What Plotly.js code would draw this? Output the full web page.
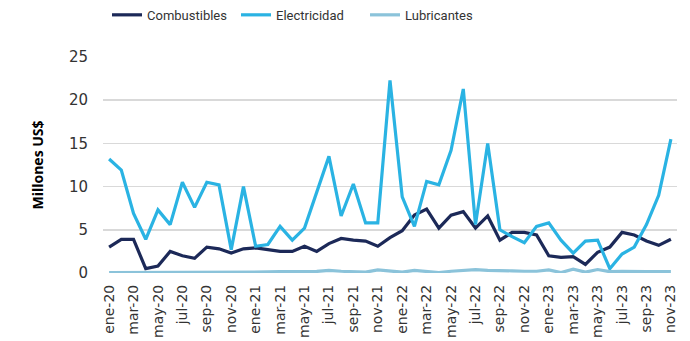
<!DOCTYPE html>
<html>
<head>
<meta charset="utf-8">
<script src="https://cdn.plot.ly/plotly-3.0.1.min.js"></script>
<style>html,body{margin:0;padding:0;background:#fff;}#chart{width:690px;height:341px;}</style>
</head>
<body>
<div id="chart"></div>
<script>
const months = [
  "ene-20","feb-20","mar-20","abr-20","may-20","jun-20","jul-20","ago-20","sep-20","oct-20","nov-20","dic-20",
  "ene-21","feb-21","mar-21","abr-21","may-21","jun-21","jul-21","ago-21","sep-21","oct-21","nov-21","dic-21",
  "ene-22","feb-22","mar-22","abr-22","may-22","jun-22","jul-22","ago-22","sep-22","oct-22","nov-22","dic-22",
  "ene-23","feb-23","mar-23","abr-23","may-23","jun-23","jul-23","ago-23","sep-23","oct-23","nov-23"
];
const combustibles = [
  3.0,3.9,3.9,0.5,0.8,2.5,2.0,1.7,3.0,2.8,2.3,2.8,
  2.9,2.7,2.5,2.5,3.1,2.5,3.4,4.0,3.8,3.7,3.1,4.1,
  4.9,6.7,7.4,5.2,6.7,7.1,5.2,6.6,3.8,4.7,4.7,4.4,
  2.0,1.8,1.9,1.0,2.4,3.0,4.7,4.4,3.7,3.2,3.9
];
const electricidad = [
  13.2,11.9,6.9,3.9,7.3,5.6,10.5,7.6,10.5,10.2,2.7,10.0,
  3.1,3.3,5.4,3.8,5.2,9.3,13.5,6.6,10.3,5.8,5.8,22.3,
  8.8,5.4,10.6,10.2,14.2,21.3,5.6,15.0,5.0,4.2,3.5,5.4,
  5.8,3.8,2.3,3.7,3.8,0.5,2.2,3.0,5.6,9.0,15.5
];
const lubricantes = [
  0.05,0.05,0.08,0.05,0.08,0.05,0.08,0.1,0.1,0.08,0.1,0.08,
  0.1,0.12,0.15,0.12,0.15,0.18,0.3,0.2,0.15,0.1,0.35,0.2,
  0.1,0.3,0.2,0.05,0.2,0.3,0.4,0.3,0.3,0.25,0.2,0.2,
  0.35,0.05,0.45,0.1,0.4,0.15,0.2,0.15,0.15,0.15,0.15
];
const tickLabels = months.filter((m, i) => i % 2 === 0);
const yTicks = [0, 5, 10, 15, 20, 25];

const mk = (name, y, color) => ({
  type: "scatter", mode: "lines", name: name, x: months, y: y,
  line: {color: color, width: 3.2, shape: "linear"}
});

const data = [
  mk("Combustibles", combustibles, "#1c2958"),
  mk("Electricidad", electricidad, "#2ab3e3"),
  mk("Lubricantes", lubricantes, "#8bc3da")
];

const tickFamily = "DejaVu Sans, sans-serif";

const layout = {
  width: 690, height: 341,
  margin: {l: 103, r: 13, t: 57, b: 68, pad: 0, autoexpand: false},
  paper_bgcolor: "#fff", plot_bgcolor: "#fff",
  font: {family: "Open Sans, sans-serif", color: "#333"},
  showlegend: true,
  legend: {
    orientation: "h", x: 0.007, xanchor: "left", y: 1.195, yanchor: "middle",
    font: {size: 13, color: "#333", family: "Roboto, sans-serif"},
    itemwidth: 30, tracegroupgap: 0, entrywidth: 84
  },
  xaxis: {
    type: "category", categoryorder: "array", categoryarray: months,
    range: [-0.5, months.length - 0.5],
    tickmode: "array", tickvals: tickLabels, ticktext: tickLabels,
    tickangle: -90, showgrid: false, zeroline: false, showline: false,
    ticks: "", ticklabelstandoff: 8,
    tickfont: {size: 14, color: "#333", family: tickFamily}
  },
  yaxis: {
    range: [0, 25], tickmode: "array", tickvals: yTicks,
    showgrid: true, gridcolor: "#d9d9d9", gridwidth: 1.5,
    zeroline: false, showline: false, ticks: "",
    ticklabelstandoff: 14,
    tickfont: {size: 15, color: "#333", family: tickFamily},
    title: {text: "Millones US$", font: {size: 14, color: "#000", family: "Open Sans, sans-serif", weight: "bold"}, standoff: 22}
  }
};

Plotly.newPlot("chart", data, layout, {displayModeBar: false, staticPlot: true});
</script>
</body>
</html>
